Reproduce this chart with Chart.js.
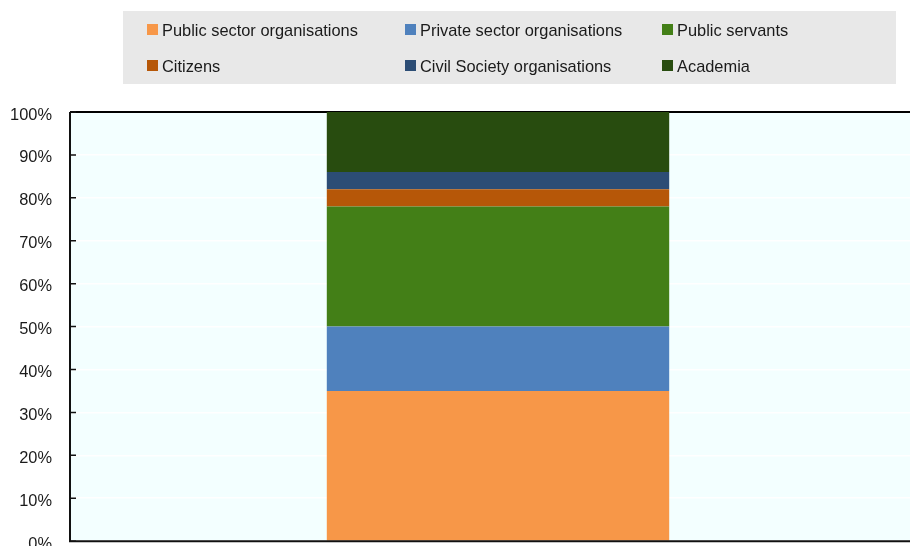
<!DOCTYPE html>
<html>
<head>
<meta charset="utf-8">
<script src="https://cdn.jsdelivr.net/npm/chart.js@4.4.1/dist/chart.umd.min.js"></script>
<style>
  html, body { margin: 0; padding: 0; overflow: hidden; background: #fff; }
  canvas { display: block; }
</style>
</head>
<body>
<canvas id="shareChart" width="930" height="569"></canvas>
<script>
// Stacked share of respondents, one column
let categories = ['Total'];
let seriesNames = ['Public sector organisations', 'Private sector organisations', 'Public servants',
                   'Citizens', 'Civil Society organisations', 'Academia'];
let seriesValues = [35, 15, 28, 4, 4, 14];
let seriesColors = ['#F79748', '#4F81BD', '#437F17', '#B65708', '#2C4D75', '#284C0F'];
let yTicks = [0, 10, 20, 30, 40, 50, 60, 70, 80, 90, 100];

let datasets = [];
for (let i = 0; i < seriesNames.length; i++) {
    datasets.push({
        label: seriesNames[i],
        data: [seriesValues[i]],
        backgroundColor: seriesColors[i],
        borderWidth: 0,
        categoryPercentage: 1,
        barPercentage: 0.4
    });
}

// plot background, top frame line
const frame = {
    id: 'frame',
    beforeDraw(chart) {
        const a = chart.chartArea, ctx = chart.ctx;
        ctx.save();
        ctx.fillStyle = '#F3FFFF';
        ctx.fillRect(a.left, a.top, a.right - a.left, a.bottom - a.top);
        ctx.restore();
    },
    beforeDatasetsDraw(chart) {
        const a = chart.chartArea, ctx = chart.ctx;
        ctx.save();
        ctx.strokeStyle = '#000';
        ctx.lineWidth = 2;
        ctx.beginPath();
        ctx.moveTo(a.left, a.top);
        ctx.lineTo(a.right, a.top);
        ctx.stroke();
        ctx.restore();
    },
    afterDraw(chart) {
        const a = chart.chartArea, ctx = chart.ctx, y = chart.scales.y;
        ctx.save();
        ctx.strokeStyle = '#111';
        ctx.lineWidth = 2;
        ctx.beginPath();
        ctx.moveTo(a.left, a.top);
        ctx.lineTo(a.left, a.bottom);
        ctx.lineTo(a.right, a.bottom);
        ctx.stroke();
        // short inward tick marks
        ctx.lineWidth = 1.5;
        ctx.beginPath();
        yTicks.forEach(v => {
            const py = y.getPixelForValue(v);
            ctx.moveTo(a.left, py);
            ctx.lineTo(a.left + 6, py);
        });
        ctx.stroke();
        ctx.restore();
    }
};

// grey legend box, three columns
const boxLegend = {
    id: 'boxLegend',
    afterDraw(chart) {
        const ctx = chart.ctx;
        const colX = [147, 405, 662];
        const rowY = [29, 65];
        ctx.save();
        ctx.fillStyle = '#E8E8E8';
        ctx.fillRect(123, 11, 773, 73);
        ctx.font = '16.4px "Liberation Sans", Arial, sans-serif';
        ctx.textBaseline = 'middle';
        chart.data.datasets.forEach((ds, i) => {
            const x = colX[i % 3], yy = rowY[Math.floor(i / 3)];
            ctx.fillStyle = ds.backgroundColor;
            ctx.fillRect(x, yy - 5, 11, 11);
            ctx.fillStyle = '#1a1a1a';
            ctx.fillText(ds.label, x + 15, yy + 2);
        });
        ctx.restore();
    }
};

var ctxShare = document.getElementById('shareChart').getContext('2d');
var chartShare = new Chart(ctxShare, {
    type: 'bar',
    data: {
        labels: categories,
        datasets: datasets
    },
    options: {
        responsive: false,
        animation: false,
        layout: { padding: { top: 112, bottom: 19, left: 0, right: 4 } },
        plugins: {
            legend: { display: false },
            tooltip: { enabled: false }
        },
        scales: {
            x: {
                stacked: true,
                display: false
            },
            y: {
                stacked: true,
                min: 0,
                max: 100,
                afterFit(scale) { scale.width = 70; },
                afterBuildTicks(scale) { scale.ticks = yTicks.map(v => ({ value: v })); },
                border: { display: false },
                grid: { color: '#FFFFFF', lineWidth: 1.5, drawTicks: false },
                ticks: {
                    padding: 18,
                    labelOffset: 3,
                    color: '#1a1a1a',
                    font: { family: '"Liberation Sans", Arial, sans-serif', size: 16.4 },
                    callback: v => v + '%'
                }
            }
        }
    },
    plugins: [frame, boxLegend]
});
</script>
</body>
</html>
